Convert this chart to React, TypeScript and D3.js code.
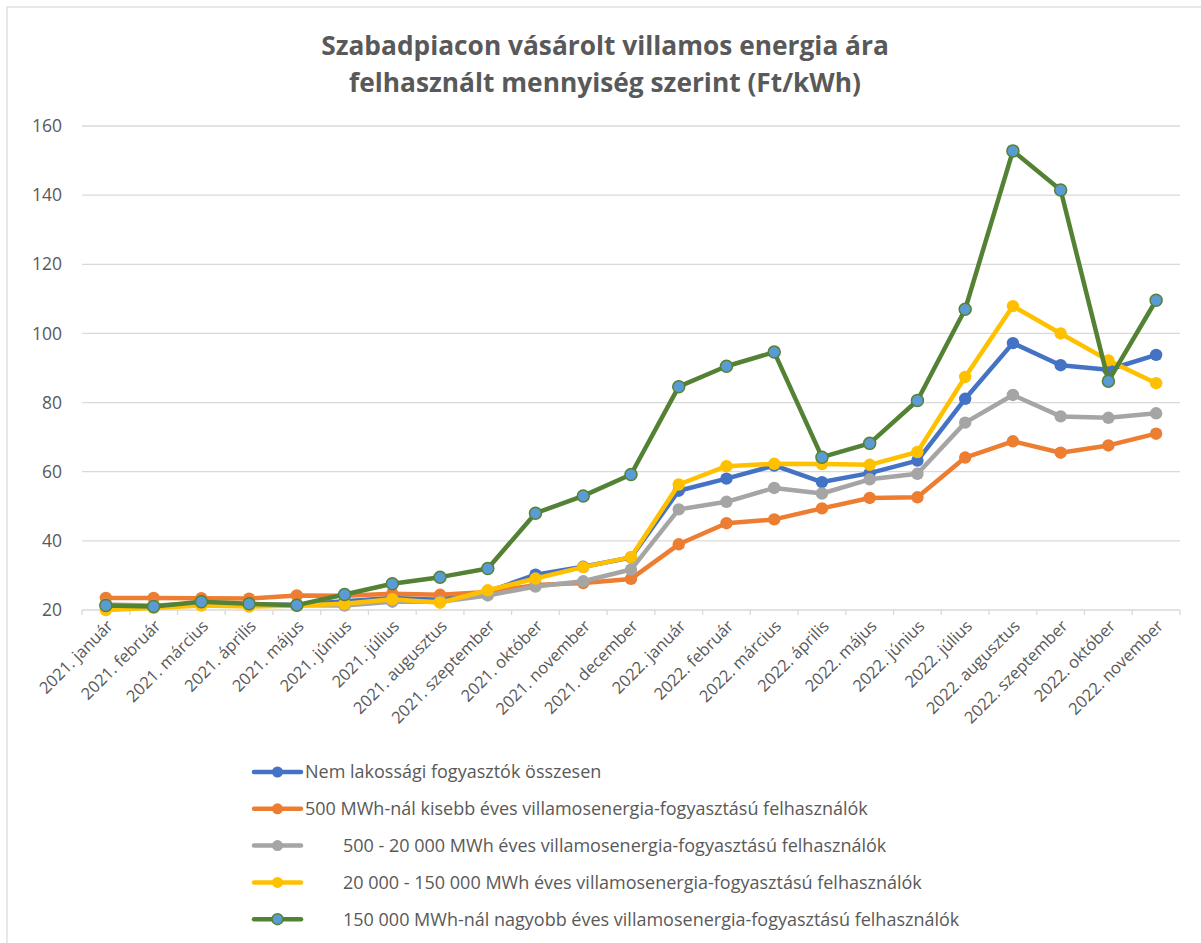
import React from 'react';
import * as d3 from 'd3';

const months = [
  '2021. január', '2021. február', '2021. március', '2021. április', '2021. május', '2021. június',
  '2021. július', '2021. augusztus', '2021. szeptember', '2021. október', '2021. november', '2021. december',
  '2022. január', '2022. február', '2022. március', '2022. április', '2022. május', '2022. június',
  '2022. július', '2022. augusztus', '2022. szeptember', '2022. október', '2022. november',
];

const osszesen = [21.3, 21.0, 21.9, 21.5, 21.5, 22.5, 23.5, 23.0, 25.3, 30.2, 32.5, 35.2, 54.5, 58.0, 61.8, 57.0, 59.6, 63.2, 81.1, 97.2, 90.8, 89.5, 93.8];
const kisebb500 = [23.5, 23.5, 23.4, 23.3, 24.2, 24.1, 24.7, 24.4, 25.2, 27.2, 27.8, 29.0, 39.0, 45.1, 46.2, 49.4, 52.4, 52.6, 64.1, 68.8, 65.5, 67.6, 71.0];
const kozepes = [21.6, 21.3, 21.9, 21.5, 21.4, 21.3, 22.4, 22.4, 24.2, 26.8, 28.3, 31.7, 49.1, 51.3, 55.3, 53.7, 57.8, 59.4, 74.2, 82.2, 76.0, 75.6, 76.9];
const nagy = [20.0, 20.6, 21.3, 21.0, 21.3, 21.8, 23.1, 22.1, 25.7, 29.1, 32.4, 35.3, 56.3, 61.6, 62.3, 62.2, 62.0, 65.7, 87.4, 107.9, 100.0, 92.2, 85.6];
const legnagyobb = [21.3, 21.0, 22.4, 21.8, 21.4, 24.5, 27.6, 29.5, 32.0, 48.0, 53.0, 59.2, 84.6, 90.5, 94.6, 64.2, 68.2, 80.6, 107.0, 152.8, 141.5, 86.2, 109.6];

const yTicks = [20, 40, 60, 80, 100, 120, 140, 160];

const seriesNames = [
  'Nem lakossági fogyasztók összesen',
  '500 MWh-nál kisebb éves villamosenergia-fogyasztású felhasználók',
  '500 - 20 000 MWh éves villamosenergia-fogyasztású felhasználók',
  '20 000 - 150 000 MWh éves villamosenergia-fogyasztású felhasználók',
  '150 000 MWh-nál nagyobb éves villamosenergia-fogyasztású felhasználók',
];
const seriesValues = [osszesen, kisebb500, kozepes, nagy, legnagyobb];
const lineColors = ['#4472C4', '#ED7D31', '#A5A5A5', '#FFC000', '#548235'];
const markerFills = ['#4472C4', '#ED7D31', '#A5A5A5', '#FFC000', '#5B9BD5'];

const FONT = "'Open Sans', 'Liberation Sans', sans-serif";
const TEXT = '#595959';

export default function App() {
  const width = 1201;
  const height = 943;

  const x = d3.scaleBand<string>().domain(months).range([82, 1180]).padding(0);
  const y = d3.scaleLinear().domain([20, 160]).range([610, 126]);
  const cx = (m: string) => (x(m) as number) + x.bandwidth() / 2;

  const line = d3.line<number>()
    .x((_, i) => cx(months[i]))
    .y(d => y(d));

  const boundaries = months.map(m => x(m) as number).concat([1180]);

  return (
    <svg width={width} height={height} style={{ position: 'absolute', left: 0, top: 0, background: '#fff' }}
      fontFamily={FONT}>
      <rect x={7} y={7} width={width + 10} height={height + 10} fill="#fff" stroke="#d9d9d9" strokeWidth={1.2} />

      <text x={605} y={55} textAnchor="middle" fontSize={26.3} fontWeight="bold" fill={TEXT}>
        Szabadpiacon vásárolt villamos energia ára
      </text>
      <text x={605} y={92} textAnchor="middle" fontSize={26.3} fontWeight="bold" fill={TEXT}>
        felhasznált mennyiség szerint (Ft/kWh)
      </text>

      {yTicks.map(t => (
        <g key={t}>
          {t > 20 && <line x1={82} x2={1180} y1={y(t)} y2={y(t)} stroke="#d9d9d9" strokeWidth={1.3} />}
          <text x={62} y={y(t)} dy="0.35em" textAnchor="end" fontSize={17.5} fill={TEXT}>{t}</text>
        </g>
      ))}

      <line x1={82} x2={1180} y1={610} y2={610} stroke="#d9d9d9" strokeWidth={1.3} />
      {boundaries.map((b, i) => (
        <line key={i} x1={b} x2={b} y1={610} y2={615} stroke="#d9d9d9" strokeWidth={1.3} />
      ))}

      {months.map(m => (
        <text key={m} transform={`translate(${cx(m) + 4},${623}) rotate(-45)`} textAnchor="end" dy="0.35em"
          fontSize={16.5} fill={TEXT}>{m}</text>
      ))}

      {seriesValues.map((vals, si) => (
        <g key={si}>
          <path d={line(vals) as string} fill="none" stroke={lineColors[si]} strokeWidth={4.5}
            strokeLinejoin="round" strokeLinecap="round" />
          {vals.map((v, i) => (
            <circle key={i} cx={cx(months[i])} cy={y(v)} r={si === 4 ? 6 : 6.2} fill={markerFills[si]}
              stroke={lineColors[si]} strokeWidth={si === 4 ? 1.5 : 0} />
          ))}
        </g>
      ))}

      {seriesNames.map((name, si) => {
        const ly = 772 + si * 36.8;
        return (
          <g key={name}>
            <line x1={254} x2={301} y1={ly} y2={ly} stroke={lineColors[si]} strokeWidth={4.5} strokeLinecap="round" />
            <circle cx={277.5} cy={ly} r={5.5} fill={markerFills[si]} stroke={lineColors[si]} strokeWidth={si === 4 ? 1.5 : 0} />
            <text x={si < 2 ? 305 : 343} y={ly} dy="0.35em" fontSize={18} fill={TEXT}>{name}</text>
          </g>
        );
      })}
    </svg>
  );
}
